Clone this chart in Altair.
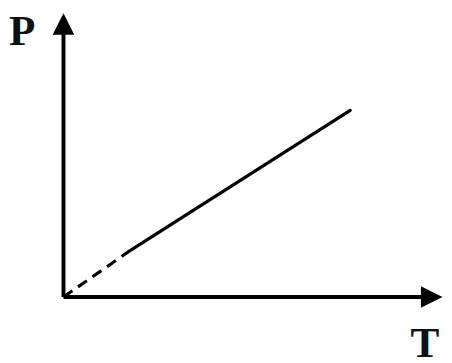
import altair as alt
import pandas as pd

# values (arbitrary units, origin at 0,0)
solid_T = [3.45, 14.6]
solid_P = [2.4, 9.5]
dash_T = [0.0, 3.45]
dash_P = [0.0, 2.4]
axis_T_end = 19.3
axis_P_end = 14.45

W, H = 444, 355
xdom = [-2.825, 19.375]
ydom = [-3.2, 14.55]

xs = alt.Scale(domain=xdom, nice=False, zero=False)
ys = alt.Scale(domain=ydom, nice=False, zero=False)

def X(f="T"):
    return alt.X(f"{f}:Q", scale=xs, axis=None)

def Y(f="P"):
    return alt.Y(f"{f}:Q", scale=ys, axis=None)

axes_df = pd.DataFrame({
    "T": [0, 0], "P": [0, 0], "T2": [axis_T_end - 0.8, 0], "P2": [0, axis_P_end - 0.8]
})
axes = alt.Chart(axes_df).mark_rule(strokeWidth=4, color="black").encode(
    x=X(), y=Y(), x2="T2:Q", y2="P2:Q"
)

arr_r = alt.Chart(pd.DataFrame({"T": [axis_T_end], "P": [0]})).mark_point(
    shape="M-2,-1L0,0L-2,1Z", size=484, filled=True, color="black", opacity=1
).encode(x=X(), y=Y())
arr_u = alt.Chart(pd.DataFrame({"T": [0], "P": [axis_P_end]})).mark_point(
    shape="M-1,2L0,0L1,2Z", size=484, filled=True, color="black", opacity=1
).encode(x=X(), y=Y())

solid = alt.Chart(pd.DataFrame({"T": solid_T, "P": solid_P})).mark_line(
    strokeWidth=3.2, color="black", strokeCap="round"
).encode(x=X(), y=Y())
dashed = alt.Chart(pd.DataFrame({"T": dash_T, "P": dash_P})).mark_line(
    strokeWidth=3.2, color="black", strokeDash=[11, 7]
).encode(x=X(), y=Y())

labels = alt.Chart(pd.DataFrame({
    "T": [-2.1, 18.4], "P": [12.85, -3.05], "t": ["P", "T"]
})).mark_text(
    font="Liberation Serif", fontWeight="bold", fontSize=44, color="#111111",
    baseline="alphabetic", align="center"
).encode(x=X(), y=Y(), text="t:N")

chart = alt.layer(axes, arr_r, arr_u, dashed, solid, labels).properties(
    width=W, height=H, padding=0, autosize=alt.AutoSizeParams(type="none")
).configure_view(stroke=None)

chart.save("out.html", embed_options={"renderer": "svg", "actions": False})
